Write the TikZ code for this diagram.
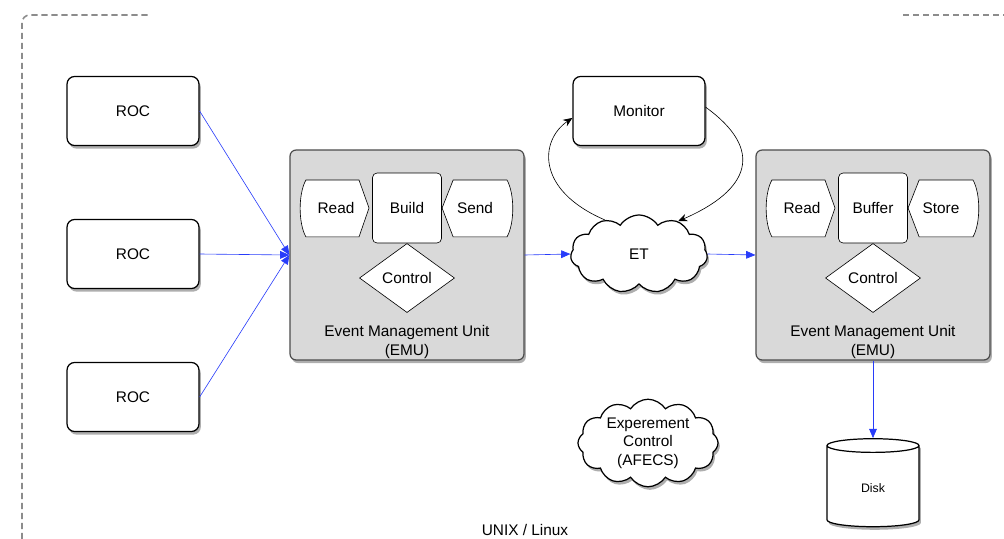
\documentclass[tikz,border=0pt]{standalone}
\usepackage{fontspec}
\setmainfont{Liberation Sans}
\usetikzlibrary{positioning}
\usetikzlibrary{shapes}
\usetikzlibrary{shadows}
\usetikzlibrary{arrows.meta}

\definecolor{flowblue}{RGB}{40,60,250}
\definecolor{emugray}{RGB}{217,217,217}

\tikzset{
  boxshadow/.style={drop shadow={shadow xshift=1.2pt, shadow yshift=-2pt, opacity=0.45, fill=black!70}},
  rocbox/.style={draw, thick, rounded corners=5pt, fill=white, boxshadow,
    minimum width=85.8pt, minimum height=44.9pt, font=\fontsize{10}{12}\selectfont},
  emubox/.style={draw=black!70, thick, rounded corners=4pt, fill=emugray, boxshadow,
    minimum width=152.1pt, minimum height=136.5pt},
  corebox/.style={draw, rounded corners=3pt, fill=white, minimum width=44.9pt, minimum height=45.5pt},
  ctrl/.style={diamond, draw, fill=white, aspect=1.4, inner sep=0pt,
    minimum width=61.8pt, minimum height=44.9pt},
  bubble/.style={cloud, draw, thick, fill=white, cloud puffs=11, cloud puff arc=115,
    aspect=1.8, inner sep=0pt, boxshadow, align=center},
  flow/.style={flowblue, -{Triangle[length=6pt,width=5pt]}},
  loop/.style={black, -{Stealth[length=6pt,width=5pt]}},
  lbl/.style={font=\fontsize{10}{12}\selectfont, align=center}
}

\begin{document}
\begin{tikzpicture}[x=0.65pt, y=-0.65pt, font=\fontsize{10}{12}\selectfont]
\useasboundingbox (0,0) rectangle (1004,539);

%frame
\draw[black!45, line width=1pt, dash pattern=on 4pt off 2.5pt]
  (22,539) -- (22,23) [rounded corners=5pt] -- (22,15) -- (148,15);
\draw[black!45, line width=1pt, dash pattern=on 4pt off 2.5pt] (903,15) -- (1004,15);
\node[lbl] (os) at (525,530) {UNIX / Linux};

%readout controllers
\node[rocbox] (roc1) at (133,111) {ROC};
\node[rocbox] (roc2) at (133,254) {ROC};
\node[rocbox] (roc3) at (133,397) {ROC};

%event management units
\foreach \cx/\nm/\mid/\rgt in {407/emuA/Build/Send, 873/emuB/Buffer/Store}{
  \node[emubox] (\nm) at (\cx,255) {};
  \node[corebox] (\nm core) at (\cx,208) {\mid};
  %left stage
  \draw[fill=white] ([xshift=-65.7pt,yshift=18.2pt]\nm core.center) -- ++(34.5pt,0) -- ++(6.5pt,-18.2pt)
    -- ++(-6.5pt,-18.8pt) -- ++(-34.5pt,0) .. controls +(-5pt,9pt) and +(-5pt,-9pt) .. cycle;
  \node (\nm in) at (\cx-71,208) {Read};
  %right stage
  \draw[fill=white] ([xshift=22.8pt]\nm core.center) -- ++(7.2pt,18.2pt) -- ++(35pt,0)
    .. controls +(5pt,-9pt) and +(5pt,9pt) .. ++(0,-37pt) -- ++(-35pt,0) -- cycle;
  \node (\nm out) at (\cx+68,208) {\rgt};
  \node[ctrl] (\nm ctrl) at (\cx,278) {Control};
  \node[lbl] (\nm txt) at (\cx,342) {Event Management Unit\\(EMU)};
}

%event transfer and monitor
\node[rocbox] (mon) at (639,111) {Monitor};
\node[bubble, minimum width=89pt, minimum height=50.7pt] (et) at (639,254) {ET};
\node[bubble, minimum width=91pt, minimum height=45.5pt, cloud puffs=12] (afecs) at (648,443)
  {Experement\\Control\\(AFECS)};

%storage
\node[cylinder, draw, thick, fill=white, boxshadow, shape border rotate=90, aspect=0.4,
  minimum width=59.8pt, minimum height=57.2pt, font=\fontsize{8}{10}\selectfont] (disk) at (873,488) {Disk};

%data flow
\draw[flow] (roc1.east) -- (emuA.west);
\draw[flow] (roc2.east) -- (emuA.west);
\draw[flow] (roc3.east) -- (emuA.west);
\draw[flow] (emuA.east) -- (et.west);
\draw[flow] (et.east) -- (emuB.west);
\draw[flow] (emuB.south) -- (disk.top);

%monitoring loop
\draw[loop] (et.135) .. controls (535,190) and (540,140) .. ([yshift=-4.5pt]mon.west);
\draw[loop] ([yshift=2.5pt]mon.east) .. controls (765,150) and (750,190) .. (et.40);
\end{tikzpicture}
\end{document}
